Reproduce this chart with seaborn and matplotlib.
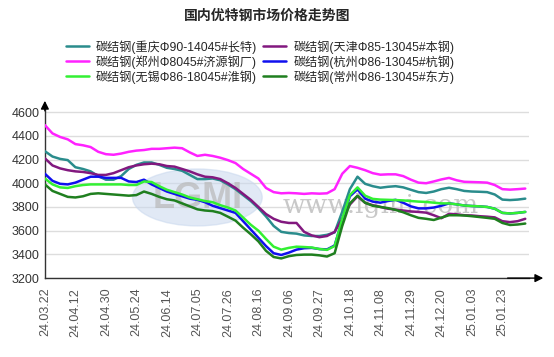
import matplotlib
matplotlib.use("Agg")
import matplotlib.pyplot as plt
import seaborn as sns
import pandas as pd
from matplotlib.patches import Ellipse

# tick labels on the x axis, one every 4 data points
date_labels = [
    "24.03.22", "24.04.12", "24.04.30", "24.05.24", "24.06.14", "24.07.05",
    "24.07.26", "24.08.16", "24.09.06", "24.09.27", "24.10.18", "24.11.08",
    "24.11.29", "24.12.20", "25.01.03", "25.01.23",
]
points_per_label = 4

series_names = [
    "碳结钢(重庆Φ90-14045#长特)",
    "碳结钢(郑州Φ8045#济源钢厂)",
    "碳结钢(无锡Φ86-18045#淮钢)",
    "碳结钢(天津Φ85-13045#本钢)",
    "碳结钢(杭州Φ86-13045#杭钢)",
    "碳结钢(常州Φ86-13045#东方)",
]
series_colors = ["#2a8c8c", "#ff22ff", "#33f033", "#82187f", "#1010ee", "#1f7f1f"]

chongqing = [
    4270, 4225, 4205, 4195, 4135, 4120, 4100, 4060, 4030, 4030, 4060, 4120,
    4155, 4175, 4175, 4155, 4130, 4120, 4105, 4070, 4035, 4035, 4040, 4025,
    3990, 3950, 3900, 3850, 3790, 3720, 3640, 3590, 3580, 3575, 3560, 3555,
    3555, 3565, 3585, 3760, 3950, 4055, 3995, 3975, 3962, 3970, 3975, 3965,
    3945, 3925, 3918, 3930, 3950, 3962, 3950, 3935, 3930, 3928, 3925, 3905,
    3862, 3858, 3862, 3870,
]
zhengzhou = [
    4490, 4420, 4390, 4370, 4330, 4320, 4305, 4265, 4245, 4240, 4250, 4265,
    4275, 4280, 4290, 4290, 4295, 4300, 4295, 4260, 4230, 4240, 4230, 4215,
    4195, 4170, 4120, 4080, 4040, 3960, 3925, 3915, 3918, 3915, 3910, 3915,
    3912, 3915, 3950, 4080, 4145, 4130, 4110, 4085, 4072, 4075, 4075, 4060,
    4030, 4005, 4000, 4015, 4032, 4045, 4025, 4012, 4010, 4008, 4005, 3985,
    3950, 3946, 3950, 3955,
]
wuxi = [
    4040, 3990, 3965, 3960, 3975, 3985, 3990, 3990, 3990, 3990, 3990, 3985,
    3985, 4015, 4010, 3975, 3945, 3925, 3905, 3880, 3865, 3850, 3840, 3815,
    3795, 3770, 3710, 3650, 3600, 3530, 3465, 3440, 3455, 3465, 3462, 3458,
    3445, 3438, 3470, 3700, 3900, 3965, 3895, 3868, 3862, 3860, 3858, 3855,
    3850, 3845, 3842, 3836, 3830, 3830, 3822, 3812, 3808, 3805, 3800, 3785,
    3750, 3745, 3750, 3758,
]
tianjin = [
    4210, 4150, 4125, 4110, 4100, 4095, 4085, 4070, 4070, 4085, 4110, 4135,
    4150, 4160, 4165, 4160, 4145, 4140, 4120, 4100, 4075, 4055, 4050, 4035,
    4000, 3960, 3910, 3860, 3800, 3740, 3700, 3675, 3665, 3665, 3590, 3560,
    3545, 3555, 3590, 3700, 3820, 3890, 3835, 3815, 3800, 3785, 3778, 3770,
    3762, 3758, 3752, 3730, 3705, 3742, 3738, 3730, 3728, 3722, 3718, 3712,
    3680, 3672, 3680, 3700,
]
hangzhou = [
    4080, 4020, 3995, 3990, 4005, 4030, 4055, 4055, 4045, 4045, 4045, 4015,
    4010, 4030, 3990, 3960, 3930, 3910, 3890, 3870, 3860, 3840, 3810, 3790,
    3770, 3750, 3680, 3610, 3540, 3470, 3410, 3395, 3415, 3440, 3452, 3455,
    3445, 3442, 3475, 3690, 3890, 3948, 3870, 3845, 3836, 3850, 3860, 3835,
    3805, 3788, 3788, 3795, 3810, 3830, 3822, 3812, 3808, 3805, 3800, 3785,
    3750, 3745, 3750, 3758,
]
changzhou = [
    3990, 3935, 3910, 3885, 3880, 3890, 3910, 3915, 3910, 3905, 3900, 3895,
    3900, 3930, 3910, 3885, 3865, 3855, 3830, 3805, 3780, 3770, 3765, 3750,
    3718, 3685, 3625, 3570, 3510, 3430, 3378, 3366, 3385, 3395, 3398, 3398,
    3392, 3382, 3410, 3640, 3830, 3895, 3835, 3810, 3800, 3790, 3775, 3755,
    3730, 3708, 3700, 3690, 3710, 3730, 3730, 3728, 3722, 3715, 3708, 3700,
    3665, 3648, 3652, 3660,
]

all_series = [chongqing, zhengzhou, wuxi, tianjin, hangzhou, changzhou]

# long table for seaborn
rows = []
for name, values in zip(series_names, all_series):
    for i, v in enumerate(values):
        rows.append({"idx": i, "price": v, "series": name})
df = pd.DataFrame(rows)

# drawing order: lime goes over blue like in the original
draw_order = [0, 1, 3, 4, 2, 5]

sns.set_style("white")
plt.rcParams["font.family"] = ["Liberation Sans", "Noto Sans CJK SC", "DejaVu Sans"]

fig = plt.figure(figsize=(5.54, 3.57), dpi=100)
ax = fig.add_axes([0.081, 0.221, 0.874, 0.485])

# watermark logo and site name
ax.add_patch(Ellipse((20, 3880), 17, 480, color="#c9d8ee", alpha=0.55, zorder=1))
ax.text(20, 3875, "LGMI", ha="center", va="center", fontsize=26, fontweight="bold",
        color="#b8b8b8", alpha=0.7, zorder=1)
ax.text(44, 3815, "www.lgmi.com", ha="center", va="center", fontsize=19,
        family=["DejaVu Serif"], color="#c8c8c8", zorder=1)

sns.lineplot(
    data=df, x="idx", y="price", hue="series",
    hue_order=[series_names[k] for k in draw_order],
    palette=[series_colors[k] for k in draw_order],
    linewidth=1.8, ax=ax, legend=False, zorder=3,
)

ax.set_xlim(0, 63.5)
ax.set_ylim(3200, 4660)
ax.set_yticks(range(3200, 4601, 200))
ax.set_xticks(range(0, len(date_labels) * points_per_label, points_per_label))
ax.set_xticklabels(date_labels, rotation=90, fontsize=9, color="#555555")
ax.tick_params(axis="y", labelsize=9, labelcolor="#333333", length=3, color="#555555", pad=1)
ax.tick_params(axis="x", length=3, color="#aaaaaa", pad=4)
ax.set_xlabel("")
ax.set_ylabel("")
ax.yaxis.grid(True, color="#dddddd", linewidth=1)
ax.xaxis.grid(False)

for side in ["top", "right"]:
    ax.spines[side].set_visible(False)
for side in ["left", "bottom"]:
    ax.spines[side].set_color("#333333")
    ax.spines[side].set_linewidth(1)

# arrow heads on the axes
ax.annotate("", xy=(1.035, 0), xytext=(0.95, 0), xycoords="axes fraction",
            arrowprops=dict(arrowstyle="-|>", color="black", lw=1, mutation_scale=12))
ax.annotate("", xy=(0, 1.04), xytext=(0, 0.95), xycoords="axes fraction",
            arrowprops=dict(arrowstyle="-|>", color="black", lw=1, mutation_scale=12))

fig.suptitle("国内优特钢市场价格走势图", x=0.482, y=0.975, fontsize=10,
             fontweight="bold", family=["Noto Sans CJK SC"])

handles = [plt.Line2D([], [], color=c, linewidth=1.8) for c in series_colors]
fig.legend(handles, series_names, loc="upper left", bbox_to_anchor=(0.108, 0.905),
           ncol=2, frameon=False, fontsize=8.7, handlelength=1.9, handletextpad=0.6,
           labelspacing=0.12, columnspacing=0.5, borderpad=0)

fig.savefig("out.png", dpi=100)
